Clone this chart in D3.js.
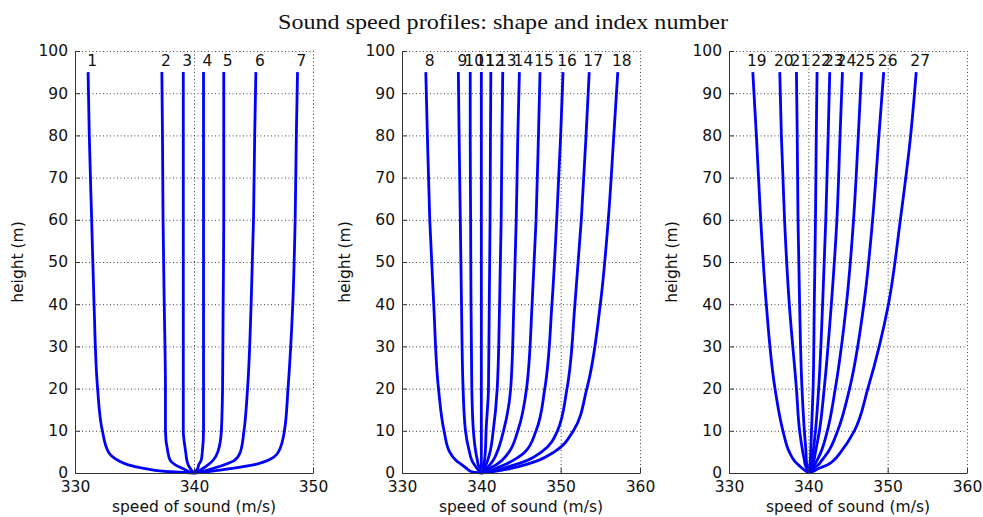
<!DOCTYPE html>
<html lang="en">
<head>
<meta charset="utf-8"/>
<title>Sound speed profiles</title>
<script src="https://d3js.org/d3.v7.min.js"></script>
<style>
body { margin: 0; background: #fff; }
.profile { fill: none; stroke: #0000ff; stroke-width: 2.8; stroke-linejoin: round; }
.grid line { stroke: #444; stroke-width: 1; stroke-dasharray: 1, 2.5; }
.axis path, .axis line { stroke: #333; }
.axis text, .idLabel, .axisTitle { font-family: "DejaVu Sans", sans-serif; font-size: 15.5px; fill: #111; }
.title { font-family: "Liberation Serif", serif; font-size: 22px; fill: #111; }
</style>
</head>
<body>
<div id="chart"></div>
<script>
var heights = [0, 0.3, 1, 2, 3, 5, 10, 20, 40, 60, 80, 95];

// panel 1: profiles 1-7
var panel1Ids = [1, 2, 3, 4, 5, 6, 7];
var panel1Speeds = [
  [340, 338.0, 336.0, 334.4, 333.6, 332.8, 332.3, 331.9, 331.6, 331.4, 331.2, 331.1],
  [340, 339.6, 339.1, 338.4, 338.0, 337.8, 337.6, 337.6, 337.5, 337.4, 337.35, 337.3],
  [340, 339.9, 339.7, 339.5, 339.4, 339.3, 339.1, 339.1, 339.1, 339.1, 339.1, 339.1],
  [340, 340.1, 340.3, 340.4, 340.6, 340.7, 340.8, 340.8, 340.8, 340.8, 340.8, 340.8],
  [340, 340.3, 340.7, 341.2, 341.6, 342.0, 342.3, 342.4, 342.45, 342.5, 342.5, 342.5],
  [340, 340.6, 341.5, 342.6, 343.4, 343.9, 344.2, 344.5, 344.8, 345.0, 345.1, 345.2],
  [340, 341.0, 342.9, 345.1, 346.2, 347.1, 347.6, 347.9, 348.3, 348.5, 348.6, 348.7]
];

// panel 2: profiles 8-18
var panel2Ids = [8, 9, 10, 11, 12, 13, 14, 15, 16, 17, 18];
var panel2Speeds = [
  [340, 338.8, 338.2, 337.5, 336.8, 336.0, 335.3, 334.6, 334.0, 333.5, 333.2, 333.0],
  [340, 339.8, 339.5, 339.1, 338.8, 338.5, 338.0, 337.7, 337.5, 337.35, 337.2, 337.1],
  [340, 339.9, 339.8, 339.6, 339.5, 339.3, 339.0, 338.8, 338.7, 338.65, 338.6, 338.6],
  [340, 340, 340, 340, 340, 340, 340, 340, 340, 340, 340, 340],
  [340, 340.05, 340.15, 340.3, 340.4, 340.5, 340.6, 340.9, 341.0, 341.1, 341.15, 341.2],
  [340, 340.1, 340.3, 340.6, 340.8, 341.1, 341.5, 342.0, 342.3, 342.5, 342.6, 342.7],
  [340, 340.2, 340.6, 341.1, 341.5, 342.0, 342.8, 343.7, 344.1, 344.4, 344.6, 344.8],
  [340, 340.4, 341.0, 341.9, 342.6, 343.5, 344.6, 345.7, 346.4, 346.9, 347.2, 347.4],
  [340, 340.7, 341.7, 343.0, 344.0, 345.5, 346.9, 348.0, 348.9, 349.5, 350.0, 350.3],
  [340, 341.0, 342.5, 344.3, 345.8, 347.6, 349.6, 350.8, 351.8, 352.6, 353.2, 353.6],
  [340, 341.5, 343.5, 345.6, 347.2, 349.2, 351.6, 353.3, 355.0, 356.0, 356.7, 357.2]
];

// panel 3: profiles 19-27
var panel3Ids = [19, 20, 21, 22, 23, 24, 25, 26, 27];
var panel3Speeds = [
  [340, 339.8, 339.3, 338.7, 338.2, 337.6, 336.8, 335.8, 334.7, 334.0, 333.45, 333.0],
  [340, 339.95, 339.8, 339.6, 339.5, 339.3, 338.9, 338.5, 337.6, 337.0, 336.6, 336.4],
  [340, 340, 339.9, 339.8, 339.75, 339.7, 339.5, 339.2, 338.9, 338.7, 338.6, 338.5],
  [340, 340.05, 340.1, 340.2, 340.25, 340.3, 340.4, 340.6, 340.75, 340.9, 341.0, 341.1],
  [340, 340.1, 340.2, 340.35, 340.45, 340.6, 340.9, 341.3, 341.8, 342.2, 342.5, 342.7],
  [340, 340.1, 340.3, 340.5, 340.7, 340.9, 341.4, 342.0, 342.9, 343.6, 344.0, 344.3],
  [340, 340.2, 340.4, 340.8, 341.1, 341.6, 342.4, 343.4, 344.8, 345.7, 346.3, 346.7],
  [340, 340.2, 340.6, 341.3, 341.7, 342.5, 343.7, 345.2, 347.0, 348.1, 348.9, 349.5],
  [340, 340.5, 341.2, 342.5, 343.2, 344.1, 345.8, 347.5, 350.1, 351.6, 352.9, 353.6]
];

var xDomains = [[330, 350], [330, 360], [330, 360]];
var xTicks = [[330, 340, 350], [330, 340, 350, 360], [330, 340, 350, 360]];
var yTicks = [0, 10, 20, 30, 40, 50, 60, 70, 80, 90, 100];

var titleText = "Sound speed profiles: shape and index number";
var xTitle = "speed of sound (m/s)";
var yTitle = "height (m)";

// layout
var w = 983, h = 517;
var panelLeft = [75, 402, 729];
var panelWidth = 238;
var plotTop = 51, plotBottom = 473;

var svg = d3.select("#chart")
            .append("svg")
            .attr("width", w)
            .attr("height", h);

svg.append("text")
   .attr("class", "title")
   .attr("x", 503)
   .attr("y", 29)
   .attr("text-anchor", "middle")
   .attr("textLength", 450)
   .attr("lengthAdjust", "spacingAndGlyphs")
   .text(titleText);

var panels = [
  {ids: panel1Ids, speeds: panel1Speeds},
  {ids: panel2Ids, speeds: panel2Speeds},
  {ids: panel3Ids, speeds: panel3Speeds}
];

var yScale = d3.scaleLinear()
               .domain([0, 100])
               .range([plotBottom, plotTop]);

panels.forEach(function(p, i) {
   var x0 = panelLeft[i];
   var xScale = d3.scaleLinear()
                  .domain(xDomains[i])
                  .range([x0, x0 + panelWidth]);

   var g = svg.append("g");

   // dotted grid
   var grid = g.append("g").attr("class", "grid");
   grid.selectAll(".vg")
       .data(xTicks[i].slice(1))
       .enter().append("line")
       .attr("x1", function(d){return xScale(d) + 0.5;})
       .attr("x2", function(d){return xScale(d) + 0.5;})
       .attr("y1", plotTop)
       .attr("y2", plotBottom);
   grid.selectAll(".hg")
       .data(yTicks.slice(1))
       .enter().append("line")
       .attr("x1", x0)
       .attr("x2", x0 + panelWidth)
       .attr("y1", function(d){return yScale(d) + 0.5;})
       .attr("y2", function(d){return yScale(d) + 0.5;});

   // profiles
   var line = d3.line()
                .x(function(d){return xScale(d[0]);})
                .y(function(d){return yScale(d[1]);})
                .curve(d3.curveMonotoneY);

   p.speeds.forEach(function(s) {
      g.append("path")
       .datum(s.map(function(v, k){return [v, heights[k]];}))
       .attr("class", "profile")
       .attr("d", line);
   });

   // index labels above each profile top
   g.selectAll(".idLabel")
    .data(p.ids)
    .enter().append("text")
    .attr("class", "idLabel")
    .attr("x", function(d, k){return xScale(p.speeds[k][heights.length - 1]) + 4;})
    .attr("y", yScale(95) - 6)
    .attr("text-anchor", "middle")
    .text(function(d){return d;});

   // axes, ticks pointing inward
   var xAxis = d3.axisBottom(xScale)
                 .tickValues(xTicks[i])
                 .tickSizeInner(-5)
                 .tickSizeOuter(0)
                 .tickPadding(8);
   g.append("g")
    .attr("class", "axis")
    .attr("transform", "translate(0," + plotBottom + ")")
    .call(xAxis);

   var yAxis = d3.axisLeft(yScale)
                 .tickValues(yTicks)
                 .tickSizeInner(-5)
                 .tickSizeOuter(0)
                 .tickPadding(7);
   g.append("g")
    .attr("class", "axis")
    .attr("transform", "translate(" + x0 + ",0)")
    .call(yAxis);

   g.selectAll(".axis text").attr("fill", "#111");

   g.append("text")
    .attr("class", "axisTitle")
    .attr("x", x0 + panelWidth / 2)
    .attr("y", 512)
    .attr("text-anchor", "middle")
    .text(xTitle);

   g.append("text")
    .attr("class", "axisTitle")
    .attr("transform", "translate(" + (x0 - 52) + "," + ((plotTop + plotBottom) / 2) + ") rotate(-90)")
    .attr("text-anchor", "middle")
    .text(yTitle);
});
</script>
</body>
</html>
